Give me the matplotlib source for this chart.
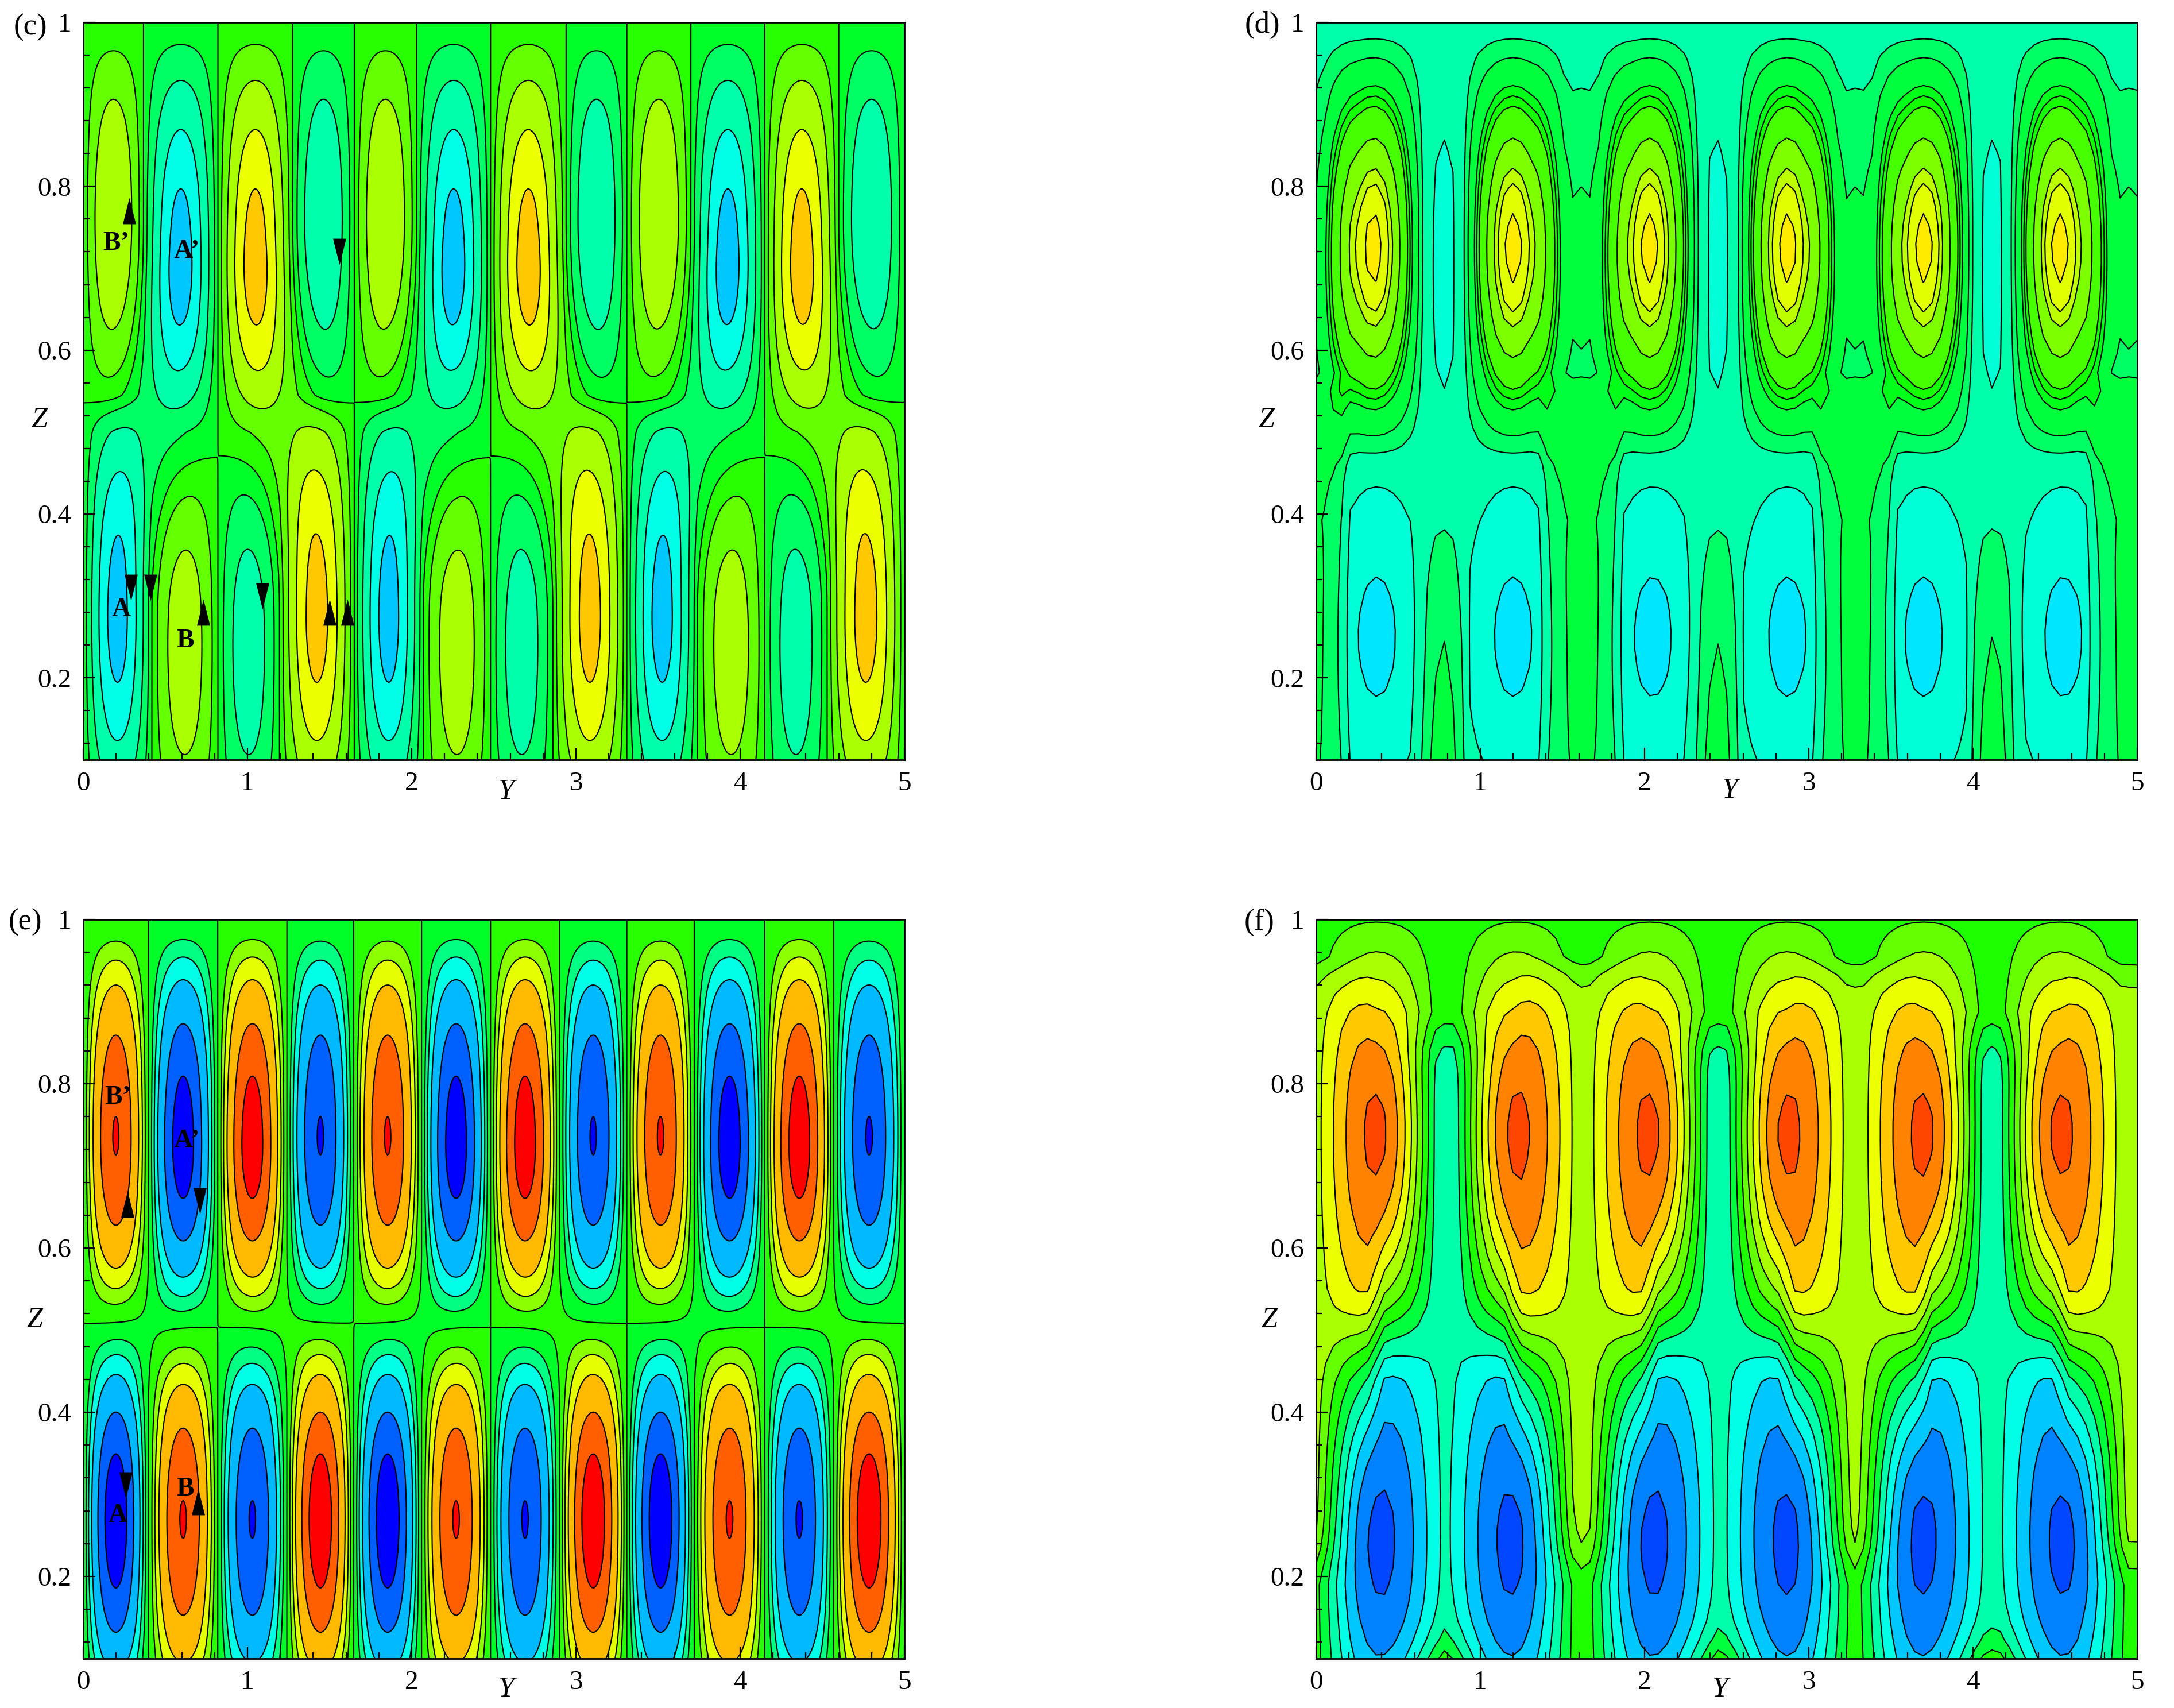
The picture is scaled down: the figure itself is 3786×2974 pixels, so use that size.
import numpy as np
import matplotlib
matplotlib.use('Agg')
import matplotlib.pyplot as plt

plt.rcParams['font.family'] = ['Liberation Serif', 'DejaVu Serif']

# The original solution fields are not available. Each panel is rebuilt from what
# can be read off the picture: cell walls, peak centres and peak heights (in
# units of the strongest peak), summed as smooth bumps. Shapes are approximate.

# panel (c)
c_walls_up = [0, .367, .82, 1.275, 1.65, 2.03, 2.48, 2.94, 3.31, 3.70, 4.15, 4.60, 5]
c_walls_lo = [0, .417, .82, 1.195, 1.65, 2.07, 2.48, 2.86, 3.31, 3.74, 4.15, 4.53, 5]
c_amp_up = [.66, -1, 1, -.66, .66, -1, 1, -.66, .66, -1, 1, -.66]
c_amp_lo = [-1, .55, -.55, 1, -1, .55, -.55, 1, -1, .55, -.55, 1]
c_zc_up = [.76, .715, .715, .76, .76, .715, .715, .76, .76, .715, .715, .76]
c_zc_lo = [.275, .24, .24, .275, .275, .24, .24, .275, .275, .24, .24, .275]
bridge_walls = [0, .82, 1.65, 2.48, 3.31, 4.15, 5]
c_bridge_amp = [-.22, .22, -.22, .22, -.22, .22]
c_levels = [-.90, -.66, -.38, -.148, 0, .148, .38, .66, .90]
c_colors = ['#00c8ff', '#00ffe6', '#00ffaa', '#00ff64', '#00ff28',
            '#28ff00', '#64ff00', '#aaff00', '#ebff00', '#ffc800']

# panel (e)
e_walls = [0, .397, .819, 1.24, 1.647, 2.06, 2.48, 2.9, 3.31, 3.72, 4.15, 4.57, 5]
e_amp_up = [.9, -1, 1, -.9, .9, -1, 1, -.9, .9, -1, 1, -.9]
e_amp_lo = [-1.03, .9, -.9, 1.03, -1.03, .9, -.9, 1.03, -1.03, .9, -.9, 1.03]
e_zc_up = [.735, .727, .727, .735, .735, .727, .727, .735, .735, .727, .727, .735]
e_zc_lo = [.27] * 12
e_bridge_amp = [-.03, .03, -.03, .03, -.03, .03]
e_levels = [-.89, -.667, -.41, -.26, -.14, 0, .14, .26, .41, .667, .89]
e_colors = ['#0000ff', '#005fff', '#00b9ff', '#00ffe6', '#00ff82', '#00ff28',
            '#28ff00', '#8cff00', '#e6ff00', '#ffb900', '#ff5f00', '#ff0000']

# panel (d)
d_up_y = [.35, 1.2, 2.03, 2.87, 3.7, 4.53]
d_lo_y = [.37, 1.2, 2.05, 2.87, 3.7, 4.55]
d_up_amp = [1, 1, 1, 1, 1, 1]
d_lo_amp = [-.2, -.2, -.2, -.2, -.2, -.2]
d_sliver_y = [.778, 2.44, 4.12]
d_sliver_amp = [-.08, -.08, -.08]
d_hill_y = [.77, 2.44, 4.12]
d_hill_amp = [.32, .32, .32]
d_gap_y = [-.05, 1.615, 3.285, 4.95]
d_gap_amp = [.28, .28, .28, .28]
d_post_amp = [.3, .3, .3, .3]
d_levels = [-.17, -.06, .114, .243, .425, .49, .55, .72, .85, .90, .97]
d_colors = ['#00e6ff', '#00ffd7', '#00ffaa', '#00ff64', '#00ff3c', '#00ff19',
            '#14ff00', '#46ff00', '#7dff00', '#beff00', '#e1ff00', '#ffeb00']

# panel (f)
f_up_y = [.37, 1.22, 2.03, 2.87, 3.7, 4.53]
f_lo_y = [.387, 1.19, 2.05, 2.87, 3.69, 4.55]
f_up_amp = [5.75, 5.75, 5.75, 5.75, 5.75, 5.75]
f_lo_amp = [-5.8, -5.8, -5.8, -5.8, -5.8, -5.8]
f_teal_y = [.78, 2.45, 4.12]
f_teal_amp = [-2.2, -2.2, -2.2]
f_lime_y = [-.05, 1.615, 3.285, 4.95]
f_lime_amp = [2.05, 2.05, 2.05, 2.05]
f_levels = [-5.5, -4.5, -3.5, -2.5, -1.5, -.5, .5, 1.5, 2.5, 3.5, 4.5, 5.5]
f_colors = ['#0046ff', '#0082ff', '#00c8ff', '#00ffe6', '#00ffaa', '#00ff3c', '#1eff00',
            '#64ff00', '#aaff00', '#ebff00', '#ffc800', '#ff8200', '#ff4600']

# annotations: (Y, Z)
c_up_arrows = [(.28, .77), (.73, .28), (1.5, .28), (1.61, .28)]
c_down_arrows = [(.29, .31), (.41, .31), (1.09, .30), (1.56, .72)]
c_names = [("B\u2019", .2, .73), ("A\u2019", .63, .72), ('A', .23, .283), ('B', .62, .245)]
e_up_arrows = [(.27, .653), (.70, .291)]
e_down_arrows = [(.71, .657), (.26, .311)]
e_names = [("B\u2019", .21, .783), ("A\u2019", .63, .73), ('A', .21, .274), ('B', .62, .306)]

UP_MARK = [(-.5, -1), (.5, -1), (0, 1), (-.5, -1)]
DOWN_MARK = [(-.5, 1), (.5, 1), (0, -1), (-.5, 1)]


def bump(Y, Z, yc, wy, zc, up, down, p=1.0):
    sy = np.clip(np.abs(Y - yc) / wy, 0, 1)
    dz = Z - zc
    sz = np.clip(np.where(dz > 0, dz / up, -dz / down), 0, 1)
    return (np.cos(np.pi / 2 * sy) * np.cos(np.pi / 2 * sz)) ** p


def cells(Y, Z, walls, amps, zcs, top, low):
    # one row of alternating cells between vertical walls
    out = np.zeros_like(Y)
    for i, amp in enumerate(amps):
        yc = (walls[i] + walls[i + 1]) / 2
        wy = (walls[i + 1] - walls[i]) / 2
        out += amp * bump(Y, Z, yc, wy, zcs[i], top(zcs[i]), low(zcs[i]))
    return out


def bridges(Y, Z, amps, zc, up, down):
    # slow part across the mid plane, between the walls that run the full height
    out = np.zeros_like(Y)
    for i, amp in enumerate(amps):
        yc = (bridge_walls[i] + bridge_walls[i + 1]) / 2
        wy = (bridge_walls[i + 1] - bridge_walls[i]) / 2
        out += amp * np.cos(np.pi / 2 * np.clip(np.abs(Y - yc) / wy, 0, 1)) * \
            bump(Y * 0, Z, 0, 1, zc, up, down, 2.0)
    return out


def field_c(Y, Z):
    f = cells(Y, Z, c_walls_up, c_amp_up, c_zc_up, lambda z: 1 - z, lambda z: z - .5)
    f += cells(Y, Z, c_walls_lo, c_amp_lo, c_zc_lo, lambda z: .27 if z > .26 else .26, lambda z: .28 if z > .26 else .26)
    return f + bridges(Y, Z, c_bridge_amp, .5, .26, .22)


def field_e(Y, Z):
    f = cells(Y, Z, e_walls, e_amp_up, e_zc_up, lambda z: 1 - z, lambda z: z - .506)
    f += cells(Y, Z, e_walls, e_amp_lo, e_zc_lo, lambda z: .506 - z, lambda z: .25)
    return f + bridges(Y, Z, e_bridge_amp, .5, .1, .1)


def field_d(Y, Z):
    f = np.zeros_like(Y)
    for y, a in zip(d_up_y, d_up_amp):
        f += a * bump(Y, Z, y, .33, .725, .275, .275)
    for y, a in zip(d_lo_y, d_lo_amp):
        f += a * bump(Y, Z, y, .45, .25, .29, .29, 2.0)
    for y, a in zip(d_sliver_y, d_sliver_amp):
        f += a * bump(Y, Z, y, .17, .705, .33, .33)
    for y, a in zip(d_hill_y, d_hill_amp):
        f += a * bump(Y, Z, y, .155, .0, .42, .2, .5)
    for y, a, b in zip(d_gap_y, d_gap_amp, d_post_amp):
        f += a * bump(Y, Z, y, .32, .7, .3, .3)
        f += b * bump(Y, Z, y, .25, .28, .29, .4, .4)
    return f


def field_f(Y, Z):
    lobes = np.zeros_like(Y)
    weight = np.ones_like(Y)
    for y, a in zip(f_up_y, f_up_amp):
        b = bump(Y, Z, y, .38, .74, .28, .30, 1.2)
        lobes += a * b
        weight -= b
    for y, a in zip(f_lo_y, f_lo_amp):
        b = bump(Y, Z, y, .40, .243, .30, .35, 1.2)
        lobes += a * b
        weight -= b
    # the teal channels and lime plateaus have steep sides, hence the tanh
    base = np.zeros_like(Y)
    for y, a in zip(f_teal_y, f_teal_amp):
        base += a * np.tanh(6 * bump(Y, Z, y, .42, .5, .38, .40))
    for y, a in zip(f_lime_y, f_lime_amp):
        base += a * np.tanh(6 * bump(Y, Z, y, .42, .6, .355, .40))
    return lobes + np.clip(weight, 0, 1) * base


def draw_panel(rect, name, name_xy, zlabel_xy, ylabel_xy, field, levels, colors, ny, nz):
    ax = fig.add_axes([rect[0] / W, 1 - rect[3] / H, (rect[2] - rect[0]) / W, (rect[3] - rect[1]) / H])
    Y, Z = np.meshgrid(np.linspace(0, 5, ny), np.linspace(.1, 1, nz))
    F = field(Y, Z)
    ax.contourf(Y, Z, F, levels=levels, colors=colors, extend='both')
    ax.contour(Y, Z, F, levels=levels, colors='k', linewidths=1.5, linestyles='solid')
    ax.set_xlim(0, 5)
    ax.set_ylim(.1, 1)
    ax.set_xticks([0, 1, 2, 3, 4, 5])
    ax.set_xticks(np.arange(0, 5.01, .2), minor=True)
    ax.set_yticks([.2, .4, .6, .8, 1])
    ax.set_yticklabels(['0.2', '0.4', '0.6', '0.8', '1'])
    ax.set_yticks(np.arange(.12, 1, .04), minor=True)
    ax.tick_params(which='major', direction='in', length=15, width=1.6, labelsize=34, pad=15)
    ax.tick_params(which='minor', direction='in', length=8, width=1.6)
    for s in ax.spines.values():
        s.set_linewidth(2)
    fig.text(name_xy[0] / W, 1 - name_xy[1] / H, name, fontsize=38, ha='center', va='center')
    fig.text(zlabel_xy[0] / W, 1 - zlabel_xy[1] / H, 'Z', fontsize=36, style='italic', ha='center', va='center')
    fig.text(ylabel_xy[0] / W, 1 - ylabel_xy[1] / H, 'Y', fontsize=36, style='italic', ha='center', va='center')
    return ax


def mark(ax, ups, downs, names):
    ax.plot([p[0] for p in ups], [p[1] for p in ups], ls='none', marker=UP_MARK, ms=33, color='k', mew=0)
    ax.plot([p[0] for p in downs], [p[1] for p in downs], ls='none', marker=DOWN_MARK, ms=33, color='k', mew=0)
    for txt, y, z in names:
        ax.text(y, z, txt, fontsize=33, fontweight='bold', ha='center', va='center')


W, H = 3787, 2974
fig = plt.figure(figsize=(W / 100, H / 100), dpi=100, facecolor='white')

ax_c = draw_panel((145, 39, 1575, 1323), '(c)', (53, 48), (68, 732), (881, 1379),
                  field_c, c_levels, c_colors, 700, 500)
mark(ax_c, c_up_arrows, c_down_arrows, c_names)
draw_panel((2292, 39, 3722, 1323), '(d)', (2198, 44), (2205, 732), (3012, 1377),
           field_d, d_levels, d_colors, 97, 41)
ax_e = draw_panel((145, 1601, 1575, 2888), '(e)', (44, 1606), (60, 2299), (881, 2942),
                  field_e, e_levels, e_colors, 700, 500)
mark(ax_e, e_up_arrows, e_down_arrows, e_names)
draw_panel((2292, 1601, 3722, 2888), '(f)', (2193, 1606), (2210, 2299), (2995, 2942),
           field_f, f_levels, f_colors, 97, 41)

fig.savefig('out.png', dpi=100)
